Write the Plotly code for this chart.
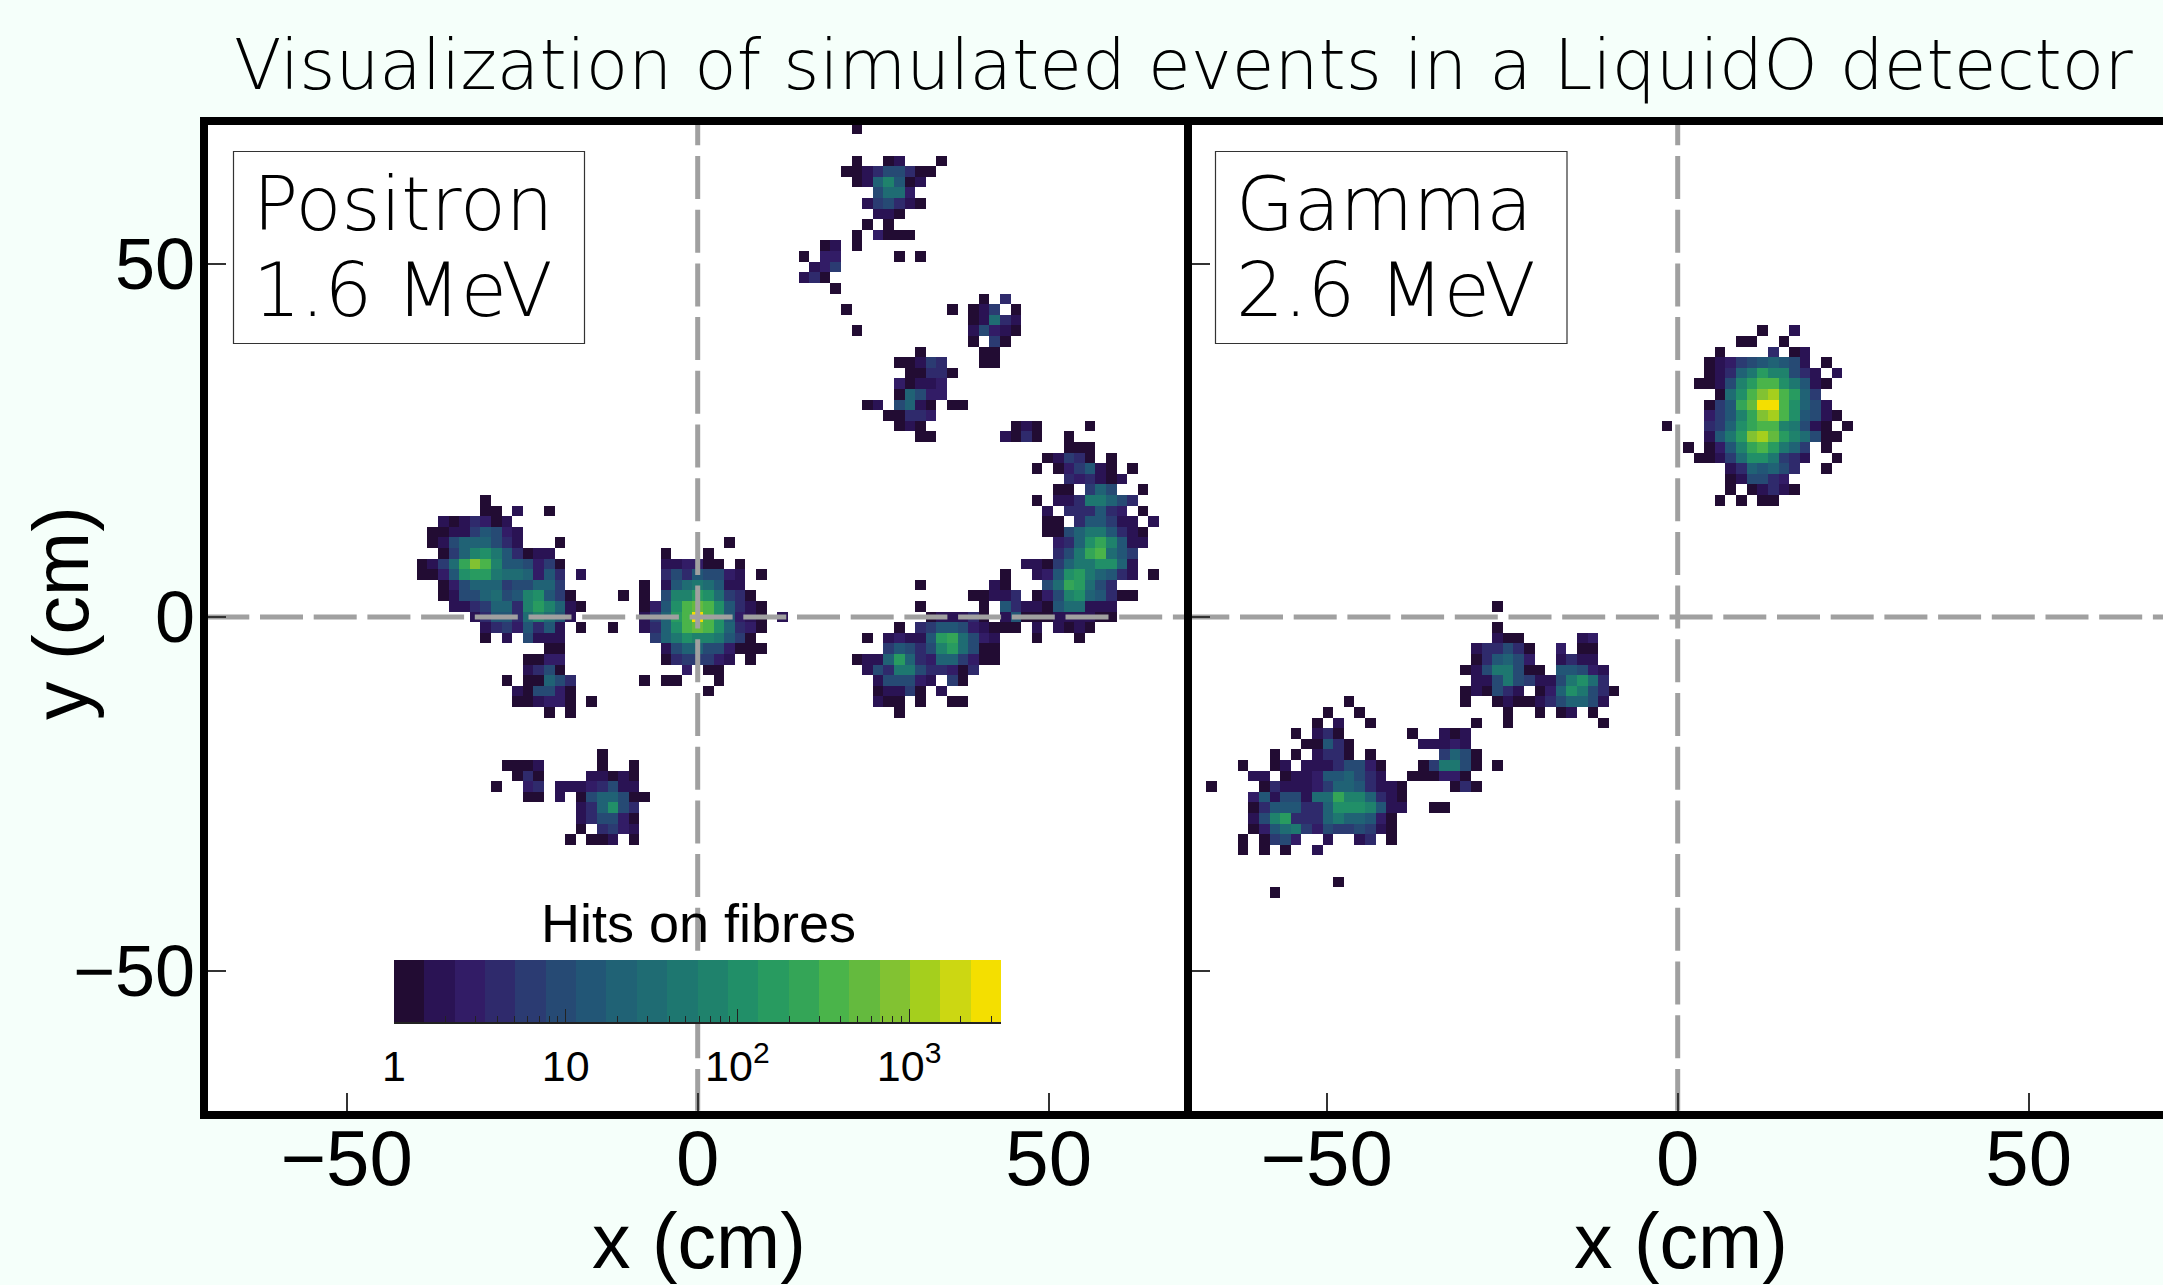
import numpy as np
import plotly.graph_objects as go

W, H = 2163, 1285
BIN_X_CM = 1.51
BIN_Y_CM = 1.5
N_HALF = 46

TITLE = "Visualization of simulated events in a LiquidO detector"
X_TICKS = [-50, 0, 50]
Y_TICKS = [-50, 0, 50]
CB_TICKS = [1, 10, 100, 1000]
CB_LABELS = ["1", "10", "10<sup>2</sup>", "10<sup>3</sup>"]
CB_MAX = 3430

# 20 colour bands of the hits scale, low to high
BANDS = ["#220c33", "#2a1354", "#321c66", "#2f2a6c", "#2b3b72", "#264a74", "#225676", "#206275",
         "#1f6c73", "#1e7770", "#1f826c", "#218f68", "#289b60", "#34a557", "#4ab44a", "#64ba3e",
         "#82c232", "#a5cf1d", "#ccd712", "#f4df00"]

# (row, first column, band per cell: 0-9 a-j, "." = no hits)
POSITRON = [
 (46,15,"0"),(43,15,"0"),(43,18,"01"),(43,23,"0"),(42,14,"001355300"),(41,15,"017a601"),(40,17,"5882"),
 (39,16,"145310"),(38,17,"110"),(37,16,"0.0"),(36,15,"0.2000"),(35,12,"01.0"),(34,10,"0.22"),(34,19,"0.0"),
 (33,11,"124"),(32,10,"130"),(31,13,"0"),(30,27,"0.3"),(29,14,"0"),(29,24,"0.014.0"),(28,26,"01831"),
 (27,15,"0"),(27,26,"15210"),(26,26,"0.40"),(25,21,"0"),(25,27,"00"),(24,19,"00143"),(24,27,"00"),
 (23,20,"00330"),(22,19,"20112"),(21,19,"07522"),(20,16,"01.5710.00"),(19,18,"00332"),(18,19,"010"),
 (18,30,"010....0"),(17,21,"00"),(17,29,"1030"),(17,35,"0"),(16,35,"000"),(15,33,"01430.0"),
 (14,32,"0.024610.0"),(13,35,"323101"),(12,34,"00.475..0"),(11,32,"0.11399753"),(10,33,"1.333632.0"),
 (9,33,"00.366411.1"),(8,33,"0057996310"),(7,34,"237bda611"),(6,34,"359de864"),(5,31,"1104799bb71"),
 (4,29,"0"),(4,32,"126bc97631.0"),(3,21,"0"),(3,28,"10"),(3,33,"58dc853"),(2,26,"00113.025ab76300"),
 (1,21,"0"),(1,27,"0.63110688111"),(0,22,"011130.16000111100"),(-1,19,"0.3466521000.1.1010"),
 (-2,16,"0.12116cd8521...0...0"),(-3,18,"46535ac8500"),(-4,15,"0117c732774200"),(-5,16,"15399533203"),
 (-6,17,"155521.40"),(-7,17,"01140.1"),(-8,17,"100.0..00"),(-9,19,"0"),
 # centre
 (7,3,"0"),(6,-3,"0...0"),(5,-3,"112200.0"),(4,-3,"35365521.0"),(3,-5,"0.16898611"),(2,-5,"0.5aacb8430"),
 (1,-5,"026befeb6310"),(0,-5,"147cejeb6210.1"),(-1,-5,"137befeb7320"),(-2,-4,"479baa9640"),
 (-3,-3,"1577552000"),(-4,-3,"0344421.0"),(-5,-1,"2.00"),(-6,-5,"0.00...0"),(-7,1,"0"),
 # left of centre
 (11,-20,"0"),(10,-20,"00.1..0"),(9,-24,"1013201"),(8,-25,"001146521"),(7,-25,"015777531...0"),
 (6,-24,"047ab963011"),(5,-26,"0148dgea665240"),(4,-26,"0026bcc9887263.1"),(3,-24,"025777455774"),
 (2,-24,"01557856ab640....0"),(1,-23,"1134773aca710"),(0,-21,"136638a861"),(-1,-20,"13426361.0..0"),
 (-2,-20,"0.1.5111"),(-3,-14,"00"),(-4,-16,"0022"),(-5,-16,"1350"),(-6,-18,"0.00753"),(-7,-17,"105520"),
 (-8,-17,"001220.0"),(-9,-14,"0.0"),
 # below
 (-13,-9,"0"),(-14,-18,"0001"),(-14,-9,"0..0"),(-15,-17,"030"),(-15,-10,"11010"),(-16,-19,"0"),(-16,-16,"23"),
 (-16,-13,"11123511"),(-17,-16,"00"),(-17,-13,"1.0577500"),(-18,-11,"137b53"),(-19,-11,"135520"),
 (-20,-11,"0.3421"),(-21,-12,"0.001.0"),
]

GAMMA = [
 (27,8,"0..1"),(26,6,"00..0"),(25,4,"0....3.01"),(24,3,"0124567651.0"),(23,3,"01379caa531.1"),
 (22,2,"0015aceeb9610"),(21,4,"08beghec74"),(20,3,"046dfjjeb751"),(19,3,"246adgheb6510"),(18,-1,"0"),
 (18,3,"347bdeea9510.0"),(17,3,"169cghfca8500"),(16,1,"0.026adec974.0"),(15,2,"00148bb9431..0"),
 (14,5,"1376753..0"),(13,5,"015532"),(12,5,"0.01310"),(11,4,"0.0.00"),
 (1,-17,"0"),(-1,-17,"0"),(-2,-17,"100"),(-2,-9,"12"),(-3,-19,"133530"),(-3,-11,"2.00"),(-4,-19,"036752"),
 (-4,-11,"1311"),(-5,-20,"01599500"),(-5,-11,"66521"),(-6,-19,"1159541159b83"),(-7,-20,"010531.027b9530"),
 (-8,-31,"0"),(-8,-20,"0..01001357751"),(-9,-33,"0"),(-9,-30,"0"),(-9,-16,"0..0.01.0"),(-10,-34,"0.1"),
 (-10,-29,"0"),(-10,-19,"0"),(-10,-16,"0"),(-10,-7,"0"),(-11,-36,"0"),(-11,-34,"130"),(-11,-25,"0"),
 (-11,-22,"101"),(-12,-35,"00630"),(-12,-24,"11121"),(-13,-38,"0.0.1330"),(-13,-29,"0"),(-13,-22,"4750"),
 (-14,-41,"0"),(-14,-38,"01.11135520"),(-14,-24,"049950"),(-14,-17,"0"),(-15,-40,"11.0112667531"),
 (-15,-25,"000220"),(-16,-44,"0"),(-16,-39,"03111247763110"),(-16,-21,"030"),(-17,-40,"26155188daa7310"),
 (-18,-40,"03666337bbba611"),(-18,-23,"00"),(-19,-40,"15ac3337977620"),(-20,-40,"02689425445410"),
 (-21,-41,"0.0452..1..13.0"),(-22,-41,"0.0.0..1"),(-25,-32,"0"),(-26,-38,"0"),
]


def grid(cells):
    z = np.full((2 * N_HALF + 1, 2 * N_HALF + 1), np.nan)
    for row, col, text in cells:
        for k, ch in enumerate(text):
            if ch != ".":
                z[row + N_HALF, col + k + N_HALF] = int(ch, 20)
    return z


def px(x):
    return x / W


def py(y):
    return 1 - y / H


n = len(BANDS)
scale = []
for i, c in enumerate(BANDS):
    scale += [[i / n, c], [(i + 1) / n, c]]
x_centres = np.arange(-N_HALF, N_HALF + 1) * BIN_X_CM
y_centres = np.arange(-N_HALF, N_HALF + 1) * BIN_Y_CM

fig = go.Figure()
for cells, xa, ya in [(POSITRON, "x", "y"), (GAMMA, "x2", "y2")]:
    fig.add_trace(go.Heatmap(x=x_centres, y=y_centres, z=grid(cells), xaxis=xa, yaxis=ya, zmin=-0.5, zmax=n - 0.5,
                             colorscale=scale, showscale=False, hoverongaps=False))
    fig.add_trace(go.Scatter(x=[0, 0], y=[-70, 70], xaxis=xa, yaxis=ya, mode="lines", showlegend=False,
                             line=dict(color="#a0a0a0", width=5, dash="43px,10.7px")))
    fig.add_trace(go.Scatter(x=[-70, 70], y=[0, 0], xaxis=xa, yaxis=ya, mode="lines", showlegend=False,
                             line=dict(color="#a0a0a0", width=5, dash="43px,10.7px")))

fig.add_trace(go.Heatmap(x=np.logspace(0, np.log10(CB_MAX), n + 1), y=[0, 1], z=[list(range(n))], xaxis="x3", yaxis="y3",
                         zmin=-0.5, zmax=n - 0.5, colorscale=scale, showscale=False))

SANS = "Liberation Sans"
LIGHT = dict(family="DejaVu Sans", weight=200, color="black")
x_tick_font = dict(family=SANS, size=78, color="black")
y_tick_font = dict(family=SANS, size=72, color="black")
common = dict(showgrid=False, zeroline=False, showline=True, linewidth=8, linecolor="black", ticks="inside",
              ticklen=18, tickwidth=1.5, tickcolor="#333333", tickmode="array", automargin=False)
PXX, PXY = 7.02, 7.07
X0L, X0R, Y0 = 697.7, 1677.7, 617

fig.update_layout(
    width=W, height=H, margin=dict(l=0, r=0, t=0, b=0), paper_bgcolor="#f5fffa", plot_bgcolor="white",
    showlegend=False,
    xaxis=dict(common, domain=[px(207.5), px(1184)], range=[(207.5 - X0L) / PXX, (1184 - X0L) / PXX], anchor="y",
               mirror=True, tickvals=X_TICKS, ticklabelstandoff=-27, tickfont=x_tick_font),
    yaxis=dict(common, domain=[py(1110.7), py(124.7)], range=[(Y0 - 1110.7) / PXY, (Y0 - 124.7) / PXY], anchor="x",
               mirror=True, tickvals=Y_TICKS, ticklabelstandoff=-10, tickfont=y_tick_font),
    xaxis2=dict(common, domain=[px(1192), 1], range=[(1192 - X0R) / PXX, (W - X0R) / PXX], anchor="y2",
                mirror=True, tickvals=X_TICKS, ticklabelstandoff=-27, tickfont=x_tick_font),
    yaxis2=dict(common, domain=[py(1110.7), py(124.7)], range=[(Y0 - 1110.7) / PXY, (Y0 - 124.7) / PXY], anchor="x2",
                tickvals=Y_TICKS, showticklabels=False),
    xaxis3=dict(domain=[px(394), px(1001)], type="log", range=[0, np.log10(CB_MAX)], anchor="y3", showgrid=False,
                zeroline=False, showline=True, linewidth=1.5, linecolor="#222222", ticks="inside", ticklen=13,
                tickwidth=1.2, tickcolor="#222222", tickmode="array", tickvals=CB_TICKS, ticktext=CB_LABELS,
                tickfont=dict(family=SANS, size=43, color="black"), ticklabelstandoff=6, automargin=False,
                minor=dict(ticks="inside", ticklen=6, tickwidth=1.2, tickcolor="#222222", dtick="D1")),
    yaxis3=dict(domain=[py(1022), py(960)], range=[0, 1], anchor="x3", visible=False, automargin=False),
    shapes=[
        dict(type="rect", xref="paper", yref="paper", x0=px(233.5), x1=px(584.5), y0=py(343.5), y1=py(151.5),
             fillcolor="white", line=dict(color="#333333", width=1.2)),
        dict(type="rect", xref="paper", yref="paper", x0=px(1215.5), x1=px(1567), y0=py(343.5), y1=py(151.5),
             fillcolor="white", line=dict(color="#333333", width=1.2)),
    ],
)


def note(text, x, y, size, font=None, anchor="left", angle=0):
    f = dict(LIGHT if font is None else font)
    f["size"] = size
    fig.add_annotation(text=text, x=px(x), y=py(y), xref="paper", yref="paper", xanchor=anchor, yanchor="middle",
                       showarrow=False, font=f, textangle=angle)


PLAIN = dict(family=SANS, color="black")
note(TITLE, 232, 65, 69.4)
note("Positron", 251, 204, 75)
note("1.6 MeV", 251, 290, 75)
note("Gamma", 1234, 204, 75)
note("2.6 MeV", 1234, 290, 75)
note("Hits on fibres", 698, 923, 54, PLAIN, "center")
note("x (cm)", 699, 1241, 77, PLAIN, "center")
note("x (cm)", 1681, 1241, 77, PLAIN, "center")
note("y (cm)", 61, 613, 77, PLAIN, "center", -90)

fig.write_html("out.html", config=dict(displayModeBar=False), post_script="document.body.style.margin='0';")
